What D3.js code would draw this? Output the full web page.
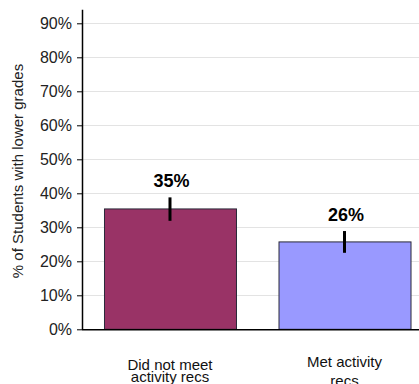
<!DOCTYPE html>
<html>
<head>
<meta charset="utf-8">
<script src="https://cdn.jsdelivr.net/npm/d3@7"></script>
<style>
  html, body { margin: 0; padding: 0; background: #fff; }
  svg { display: block; font-family: "Liberation Sans", Arial, sans-serif; }
</style>
</head>
<body>
<svg id="chart" width="419" height="384"></svg>
<script>
const categories = ["Did not meet activity recs", "Met activity recs"];
const categoryLines = [["Did not meet", "activity recs"], ["Met activity", "recs"]];
const values = [35.4, 25.7];
const errLow = [31.9, 22.5];
const errHigh = [38.8, 28.9];
const valueLabels = ["35%", "26%"];
const tickValues = [0, 10, 20, 30, 40, 50, 60, 70, 80, 90];
const colors = ["#993366", "#9999FF"];
const yTitle = "% of Students with lower grades";

const svg = d3.select("#chart");
const W = 419, H = 384;
const x0 = 82, yBase = 329.3;

const y = d3.scaleLinear().domain([0, 94]).range([yBase, 9.7]);
const x = d3.scaleBand().domain(categories)
  .range([x0, 432.5]).paddingInner(0.2436).paddingOuter(0.126);

// gridlines
svg.append("g").selectAll("line").data(tickValues.filter(d => d > 0)).join("line")
  .attr("x1", x0).attr("x2", W)
  .attr("y1", d => Math.round(y(d)) + 0.5).attr("y2", d => Math.round(y(d)) + 0.5)
  .attr("stroke", "#e3e3e3").attr("stroke-width", 1);

// bars
svg.append("g").selectAll("rect").data(categories).join("rect")
  .attr("x", d => x(d) + 0.5)
  .attr("y", (d, i) => y(values[i]))
  .attr("width", x.bandwidth())
  .attr("height", (d, i) => yBase - y(values[i]))
  .attr("fill", (d, i) => colors[i])
  .attr("stroke", "#2a2a3a").attr("stroke-width", 1);

// error bars
svg.append("g").selectAll("line").data(categories).join("line")
  .attr("x1", d => x(d) + x.bandwidth() / 2)
  .attr("x2", d => x(d) + x.bandwidth() / 2)
  .attr("y1", (d, i) => y(errHigh[i]))
  .attr("y2", (d, i) => y(errLow[i]))
  .attr("stroke", "#000").attr("stroke-width", 3);

// value labels
svg.append("g").selectAll("text").data(categories).join("text")
  .attr("x", d => x(d) + x.bandwidth() / 2 + 1.5)
  .attr("y", (d, i) => y(errHigh[i]) - 10.5)
  .attr("text-anchor", "middle")
  .attr("font-size", "18px").attr("font-weight", "bold").attr("fill", "#000")
  .text((d, i) => valueLabels[i]);

// y axis
const yAxis = d3.axisLeft(y).tickValues(tickValues).tickFormat(d => d + "%")
  .tickSize(5).tickPadding(5);
const ga = svg.append("g").attr("transform", `translate(${x0},0)`).call(yAxis);
ga.select(".domain").remove();
ga.selectAll(".tick line").attr("stroke", "#000");
ga.selectAll(".tick text").attr("font-size", "16px").attr("fill", "#222")
  .attr("font-family", "Liberation Sans, Arial, sans-serif");
svg.append("line").attr("x1", x0 + 0.5).attr("x2", x0 + 0.5)
  .attr("y1", y(94)).attr("y2", yBase + 0.5).attr("stroke", "#000").attr("stroke-width", 1.5);

// x axis baseline
svg.append("line").attr("x1", x0).attr("x2", W)
  .attr("y1", yBase + 0.5).attr("y2", yBase + 0.5)
  .attr("stroke", "#000").attr("stroke-width", 1.5);

// category labels
const lineY = [[369.5, 382], [367.3, 386]];
categories.forEach((c, i) => {
  categoryLines[i].forEach((ln, j) => {
    svg.append("text")
      .attr("x", x(c) + x.bandwidth() / 2)
      .attr("y", lineY[i][j])
      .attr("text-anchor", "middle")
      .attr("font-size", "15px").attr("fill", "#111")
      .text(ln);
  });
});

// y title
svg.append("text")
  .attr("transform", `translate(23,171) rotate(-90)`)
  .attr("text-anchor", "middle")
  .attr("font-size", "15px").attr("fill", "#222")
  .text(yTitle);
</script>
</body>
</html>
